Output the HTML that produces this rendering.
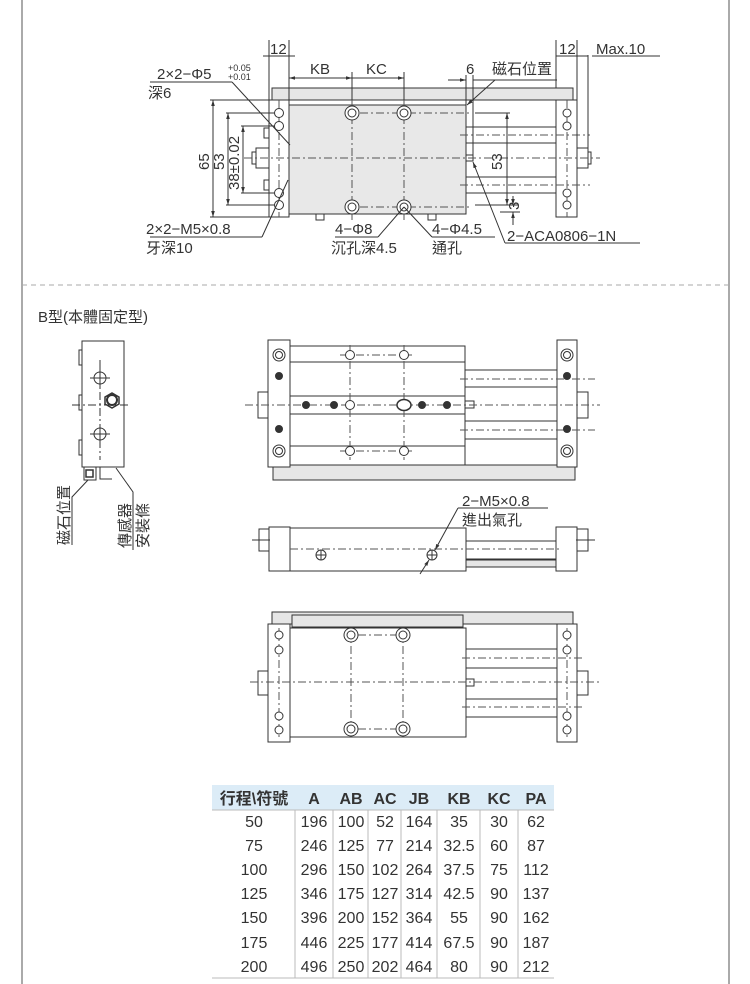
<!DOCTYPE html>
<html><head><meta charset="utf-8"><style>
html,body{margin:0;padding:0;background:#fff;}
svg{display:block;}
text{font-family:"Liberation Sans","Noto Sans CJK TC",sans-serif;fill:#333;}
</style></head><body>
<svg width="750" height="984" viewBox="0 0 750 984" xmlns="http://www.w3.org/2000/svg">
<defs>
<marker id="a" viewBox="0 0 10 10" refX="10" refY="5" markerWidth="6" markerHeight="6" orient="auto-start-reverse"><path d="M0,2 L10,5 L0,8z" fill="#333"/></marker>
</defs>
<line x1="22" y1="0" x2="22" y2="984" stroke="#555" stroke-width="1"/>
<line x1="729" y1="0" x2="729" y2="984" stroke="#555" stroke-width="1"/>
<line x1="22" y1="285" x2="729" y2="285" stroke="#aaa" stroke-dasharray="5,4"/>

<g stroke="#333" stroke-width="1" fill="none">
<rect x="272" y="88" width="301" height="12" fill="#e6e6e6"/>
<rect x="269" y="100" width="20" height="117" fill="#fff"/>
<rect x="556" y="100" width="21" height="117" fill="#fff"/>
<rect x="289" y="105" width="177" height="109" fill="#e8e8e8"/>
<rect x="466" y="127" width="90" height="16" fill="#fff"/>
<rect x="466" y="177" width="90" height="16" fill="#fff"/>
<rect x="256" y="148" width="13" height="20" fill="#fff"/>
<rect x="252" y="152" width="4" height="12" fill="#fff"/>
<rect x="577" y="148" width="11" height="20" fill="#fff"/>
<rect x="588" y="152" width="3" height="12" fill="#fff"/>
<rect x="264" y="128" width="5" height="10" fill="#fff"/>
<rect x="264" y="180" width="5" height="10" fill="#fff"/>
<rect x="316" y="214" width="8" height="6" fill="#fff"/>
<rect x="428" y="214" width="8" height="6" fill="#fff"/>
<rect x="466" y="155" width="7" height="6" fill="#fff"/>
<g stroke-dasharray="8,3,2,3" stroke="#555">
<line x1="244" y1="158" x2="600" y2="158"/>
<line x1="352" y1="100" x2="352" y2="220"/>
<line x1="404" y1="100" x2="404" y2="220"/>
<line x1="279" y1="100" x2="279" y2="217"/>
<line x1="567" y1="100" x2="567" y2="217"/>
<line x1="360" y1="113" x2="470" y2="113"/>
<line x1="360" y1="207" x2="470" y2="207"/>
<line x1="460" y1="135" x2="590" y2="135"/>
<line x1="460" y1="185" x2="590" y2="185"/>
</g>
<g fill="#fff">
<circle cx="279" cy="113" r="4.5"/><circle cx="279" cy="126" r="4.5"/><circle cx="279" cy="193" r="4.5"/><circle cx="279" cy="205" r="4.5"/>
<circle cx="567" cy="113" r="4"/><circle cx="567" cy="126" r="4"/><circle cx="567" cy="193" r="4"/><circle cx="567" cy="205" r="4"/>
<circle cx="352" cy="113" r="7"/><circle cx="404" cy="113" r="7"/><circle cx="352" cy="207" r="7"/><circle cx="404" cy="207" r="7"/>
</g>
<circle cx="352" cy="113" r="4"/><circle cx="404" cy="113" r="4"/><circle cx="352" cy="207" r="4"/><circle cx="404" cy="207" r="4"/>
<line x1="269" y1="40" x2="269" y2="100"/><line x1="289" y1="40" x2="289" y2="105"/>
<line x1="263" y1="56" x2="295" y2="56"/>
<line x1="289" y1="78" x2="352" y2="78" marker-start="url(#a)" marker-end="url(#a)"/>
<line x1="352" y1="78" x2="404" y2="78" marker-end="url(#a)"/>
<line x1="352" y1="72" x2="352" y2="100"/><line x1="404" y1="72" x2="404" y2="100"/>
<line x1="466" y1="75" x2="466" y2="105"/><line x1="473" y1="75" x2="473" y2="155"/>
<line x1="448" y1="80" x2="466" y2="80" marker-end="url(#a)"/><line x1="473" y1="80" x2="485" y2="80"/>
<line x1="485" y1="80" x2="557" y2="80"/>
<line x1="495" y1="80" x2="467" y2="105" marker-end="url(#a)"/>
<line x1="556" y1="40" x2="556" y2="88"/><line x1="577" y1="40" x2="577" y2="148"/><line x1="588" y1="55" x2="588" y2="148"/>
<line x1="556" y1="56" x2="577" y2="56"/>
<line x1="577" y1="56" x2="588" y2="56"/>
<line x1="592" y1="56" x2="660" y2="56"/>
<line x1="210" y1="100" x2="269" y2="100"/><line x1="210" y1="217" x2="269" y2="217"/>
<line x1="213" y1="100" x2="213" y2="217" marker-start="url(#a)" marker-end="url(#a)"/>
<line x1="226" y1="113" x2="275" y2="113"/><line x1="226" y1="205" x2="275" y2="205"/>
<line x1="228" y1="113" x2="228" y2="205" marker-start="url(#a)" marker-end="url(#a)"/>
<line x1="241" y1="126" x2="275" y2="126"/><line x1="241" y1="193" x2="275" y2="193"/>
<line x1="243" y1="126" x2="243" y2="193" marker-start="url(#a)" marker-end="url(#a)"/>
<line x1="475" y1="113" x2="510" y2="113"/><line x1="475" y1="205" x2="518" y2="205"/>
<line x1="507" y1="113" x2="507" y2="205" marker-start="url(#a)" marker-end="url(#a)"/>
<line x1="513" y1="196" x2="513" y2="205" marker-end="url(#a)"/><line x1="513" y1="225" x2="513" y2="212" marker-end="url(#a)"/>
<line x1="500" y1="212" x2="520" y2="212"/>
<line x1="150" y1="82" x2="232" y2="82"/><line x1="232" y1="82" x2="290" y2="145"/>
<line x1="150" y1="237" x2="262" y2="237"/><line x1="262" y1="237" x2="288" y2="180"/>
<line x1="335" y1="237" x2="378" y2="237"/><line x1="378" y1="237" x2="404" y2="207"/>
<line x1="432" y1="237" x2="495" y2="237"/><line x1="432" y1="237" x2="404" y2="207"/>
<line x1="505" y1="243" x2="640" y2="243"/><line x1="505" y1="243" x2="473" y2="162" marker-end="url(#a)"/>

<rect x="82" y="341" width="42" height="126" fill="#fff"/>
<rect x="79" y="350" width="3" height="15" fill="#fff"/><rect x="79" y="395" width="3" height="15" fill="#fff"/><rect x="79" y="440" width="3" height="15" fill="#fff"/>
<circle cx="100" cy="378" r="6"/><circle cx="100" cy="434" r="6"/>
<line x1="90" y1="378" x2="110" y2="378"/><line x1="100" y1="368" x2="100" y2="388"/>
<line x1="90" y1="434" x2="110" y2="434"/><line x1="100" y1="424" x2="100" y2="444"/>
<polygon points="105,397 112,393 119,397 119,404 112,408 105,404" stroke-width="1.5"/>
<circle cx="112" cy="400" r="5" stroke-width="2"/>
<line x1="72" y1="405" x2="130" y2="405" stroke-dasharray="8,3,2,3"/>
<line x1="100" y1="360" x2="100" y2="460" stroke-dasharray="8,3,2,3"/>
<rect x="84" y="467" width="12" height="13" fill="#fff"/><rect x="86" y="470" width="7" height="7" stroke-width="1.5"/>
<path d="M100,467 V479 H112"/>
<path d="M88,480 L72,497 V545"/><path d="M116,468 L133,492 V550"/>

<rect x="273" y="465" width="302" height="15" fill="#e6e6e6"/>
<rect x="268" y="340" width="22" height="127" fill="#fff"/>
<rect x="557" y="340" width="20" height="127" fill="#fff"/>
<rect x="290" y="346" width="175" height="119" fill="#fff"/>
<line x1="290" y1="362" x2="465" y2="362"/><line x1="290" y1="396" x2="465" y2="396"/>
<line x1="290" y1="414" x2="465" y2="414"/><line x1="290" y1="446" x2="465" y2="446"/>
<rect x="465" y="370" width="92" height="17" fill="#fff"/>
<rect x="465" y="421" width="92" height="18" fill="#fff"/>
<rect x="465" y="401" width="9" height="7" fill="#fff"/>
<rect x="258" y="392" width="10" height="26" fill="#fff"/><rect x="577" y="392" width="11" height="26" fill="#fff"/>
<g stroke-dasharray="8,3,2,3" stroke="#555">
<line x1="245" y1="405" x2="600" y2="405"/>
<line x1="350" y1="345" x2="350" y2="460"/><line x1="404" y1="345" x2="404" y2="460"/>
<line x1="340" y1="355" x2="414" y2="355"/><line x1="340" y1="451" x2="414" y2="451"/>
<line x1="460" y1="379" x2="595" y2="379"/><line x1="460" y1="430" x2="595" y2="430"/>
</g>
<g fill="#fff">
<circle cx="279" cy="355" r="6"/><circle cx="279" cy="451" r="6"/><circle cx="567" cy="355" r="6"/><circle cx="567" cy="451" r="6"/>
<circle cx="350" cy="355" r="4.5"/><circle cx="404" cy="355" r="4.5"/><circle cx="350" cy="451" r="4.5"/><circle cx="404" cy="451" r="4.5"/>
<circle cx="350" cy="405" r="4.5"/><ellipse cx="404" cy="405" rx="7" ry="5.5" stroke-width="1.5"/>
</g>
<circle cx="279" cy="355" r="3.5"/><circle cx="279" cy="451" r="3.5"/><circle cx="567" cy="355" r="3.5"/><circle cx="567" cy="451" r="3.5"/>
<g fill="#333">
<circle cx="279" cy="376" r="3.5"/><circle cx="279" cy="429" r="3.5"/><circle cx="567" cy="376" r="3.5"/><circle cx="567" cy="429" r="3.5"/>
<circle cx="306" cy="405" r="3.5"/><circle cx="334" cy="405" r="3.5"/><circle cx="422" cy="405" r="3.5"/><circle cx="447" cy="405" r="3.5"/>
</g>

<rect x="269" y="527" width="21" height="44" fill="#fff"/>
<rect x="290" y="528" width="176" height="43" fill="#fff"/>
<rect x="556" y="527" width="21" height="44" fill="#fff"/>
<rect x="466" y="541" width="90" height="18" fill="#fff"/>
<rect x="466" y="560" width="90" height="7" fill="#e6e6e6"/>
<rect x="259" y="529" width="10" height="22" fill="#fff"/><rect x="577" y="529" width="11" height="22" fill="#fff"/>
<line x1="252" y1="540" x2="270" y2="540"/><line x1="576" y1="540" x2="595" y2="540"/>
<line x1="290" y1="549" x2="560" y2="549" stroke-dasharray="8,3,2,3" stroke="#555"/>
<circle cx="321" cy="555" r="5"/><line x1="316" y1="555" x2="326" y2="555"/><line x1="321" y1="550" x2="321" y2="560"/>
<circle cx="432" cy="555" r="5"/><line x1="427" y1="555" x2="437" y2="555"/><line x1="432" y1="550" x2="432" y2="560"/>
<line x1="458" y1="508" x2="548" y2="508"/>
<line x1="458" y1="508" x2="435" y2="550" marker-end="url(#a)"/><line x1="420" y1="574" x2="429" y2="560" marker-end="url(#a)"/>

<rect x="272" y="612" width="301" height="12" fill="#e6e6e6"/>
<rect x="292" y="615" width="171" height="12" fill="#e6e6e6"/>
<rect x="268" y="624" width="22" height="118" fill="#fff"/>
<rect x="557" y="624" width="20" height="118" fill="#fff"/>
<rect x="290" y="628" width="176" height="109" fill="#fff"/>
<rect x="466" y="649" width="91" height="19" fill="#fff"/>
<rect x="466" y="699" width="91" height="18" fill="#fff"/>
<rect x="466" y="679" width="8" height="7" fill="#fff"/>
<rect x="258" y="671" width="10" height="24" fill="#fff"/><rect x="577" y="671" width="11" height="24" fill="#fff"/>
<g stroke-dasharray="8,3,2,3" stroke="#555">
<line x1="250" y1="682" x2="600" y2="682"/>
<line x1="351" y1="630" x2="351" y2="737"/><line x1="403" y1="630" x2="403" y2="737"/>
<line x1="279" y1="628" x2="279" y2="740"/><line x1="567" y1="628" x2="567" y2="740"/>
<line x1="358" y1="635" x2="396" y2="635"/><line x1="358" y1="729" x2="396" y2="729"/>
<line x1="462" y1="658" x2="582" y2="658"/><line x1="462" y1="707" x2="582" y2="707"/>
</g>
<g fill="#fff">
<circle cx="279" cy="635" r="4"/><circle cx="279" cy="650" r="4"/><circle cx="279" cy="716" r="4"/><circle cx="279" cy="730" r="4"/>
<circle cx="567" cy="635" r="4"/><circle cx="567" cy="650" r="4"/><circle cx="567" cy="716" r="4"/><circle cx="567" cy="730" r="4"/>
<circle cx="351" cy="635" r="7"/><circle cx="403" cy="635" r="7"/><circle cx="351" cy="729" r="7"/><circle cx="403" cy="729" r="7"/>
</g>
<circle cx="351" cy="635" r="4"/><circle cx="403" cy="635" r="4"/><circle cx="351" cy="729" r="4"/><circle cx="403" cy="729" r="4"/>
</g>

<g font-size="15">
<text x="270" y="54">12</text>
<text x="310" y="74">KB</text>
<text x="366" y="74">KC</text>
<text x="466" y="74">6</text>
<text x="492" y="74">磁石位置</text>
<text x="559" y="54">12</text>
<text x="596" y="54">Max.10</text>
<text x="157" y="79">2×2−Φ5</text>
<text x="228" y="71" font-size="9">+0.05</text>
<text x="228" y="80" font-size="9">+0.01</text>
<text x="148" y="98">深6</text>
<text transform="translate(209,170) rotate(-90)">65</text>
<text transform="translate(224,170) rotate(-90)">53</text>
<text transform="translate(239,190) rotate(-90)">38±0.02</text>
<text transform="translate(502,170) rotate(-90)">53</text>
<text transform="translate(519,210) rotate(-90)">3</text>
<text x="146" y="234">2×2−M5×0.8</text>
<text x="146" y="253">牙深10</text>
<text x="335" y="234">4−Φ8</text>
<text x="331" y="253">沉孔深4.5</text>
<text x="432" y="234">4−Φ4.5</text>
<text x="432" y="253">通孔</text>
<text x="507" y="241">2−ACA0806−1N</text>
<text x="38" y="322" font-size="15">B型(本體固定型)</text>
<text x="462" y="506">2−M5×0.8</text>
<text x="462" y="525">進出氣孔</text>
<text transform="translate(69,545) rotate(-90)">磁石位置</text>
<text transform="translate(130,548) rotate(-90)">傳感器</text>
<text transform="translate(148,548) rotate(-90)">安裝條</text>
</g>

<rect x="212" y="785" width="342" height="25" fill="#dcecf7"/>
<g stroke="#bbb" stroke-width="1">
<line x1="212" y1="810" x2="554" y2="810"/>
<line x1="212" y1="978" x2="554" y2="978"/>
<line x1="295" y1="810" x2="295" y2="978"/><line x1="333" y1="810" x2="333" y2="978"/>
<line x1="368" y1="810" x2="368" y2="978"/><line x1="401" y1="810" x2="401" y2="978"/>
<line x1="437" y1="810" x2="437" y2="978"/><line x1="480" y1="810" x2="480" y2="978"/>
<line x1="518" y1="810" x2="518" y2="978"/>
</g>
<g font-size="16" font-weight="bold" text-anchor="middle">
<text x="254" y="804">行程\符號</text><text x="314" y="804">A</text><text x="351" y="804">AB</text>
<text x="385" y="804">AC</text><text x="419" y="804">JB</text><text x="459" y="804">KB</text>
<text x="499" y="804">KC</text><text x="536" y="804">PA</text>
</g>
<g font-size="16" text-anchor="middle">
<text x="254" y="827">50</text><text x="314" y="827">196</text><text x="351" y="827">100</text><text x="385" y="827">52</text><text x="419" y="827">164</text><text x="459" y="827">35</text><text x="499" y="827">30</text><text x="536" y="827">62</text>
<text x="254" y="851">75</text><text x="314" y="851">246</text><text x="351" y="851">125</text><text x="385" y="851">77</text><text x="419" y="851">214</text><text x="459" y="851">32.5</text><text x="499" y="851">60</text><text x="536" y="851">87</text>
<text x="254" y="875">100</text><text x="314" y="875">296</text><text x="351" y="875">150</text><text x="385" y="875">102</text><text x="419" y="875">264</text><text x="459" y="875">37.5</text><text x="499" y="875">75</text><text x="536" y="875">112</text>
<text x="254" y="899">125</text><text x="314" y="899">346</text><text x="351" y="899">175</text><text x="385" y="899">127</text><text x="419" y="899">314</text><text x="459" y="899">42.5</text><text x="499" y="899">90</text><text x="536" y="899">137</text>
<text x="254" y="923">150</text><text x="314" y="923">396</text><text x="351" y="923">200</text><text x="385" y="923">152</text><text x="419" y="923">364</text><text x="459" y="923">55</text><text x="499" y="923">90</text><text x="536" y="923">162</text>
<text x="254" y="948">175</text><text x="314" y="948">446</text><text x="351" y="948">225</text><text x="385" y="948">177</text><text x="419" y="948">414</text><text x="459" y="948">67.5</text><text x="499" y="948">90</text><text x="536" y="948">187</text>
<text x="254" y="972">200</text><text x="314" y="972">496</text><text x="351" y="972">250</text><text x="385" y="972">202</text><text x="419" y="972">464</text><text x="459" y="972">80</text><text x="499" y="972">90</text><text x="536" y="972">212</text>
</g>
</svg>
</body></html>
